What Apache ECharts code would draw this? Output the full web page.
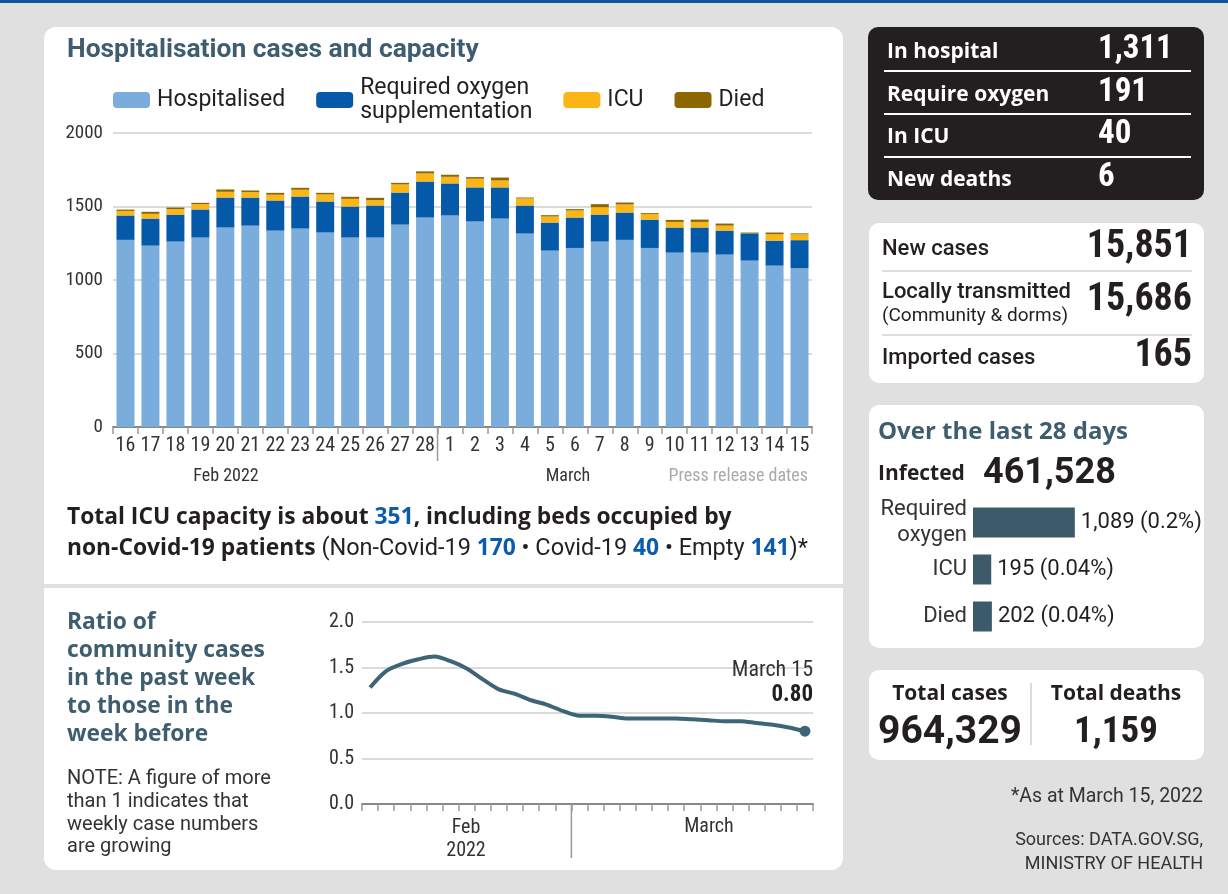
<!DOCTYPE html>
<html>
<head>
<meta charset="utf-8">
<script src="https://cdn.jsdelivr.net/npm/echarts@6/dist/echarts.min.js"></script>
<style>
  html, body { margin: 0; padding: 0; background: #dfe0df; }
  #main { width: 1228px; height: 894px; }
</style>
</head>
<body>
<div id="main"></div>
<script>
// press release dates, Feb 16 - Mar 15 2022
var days = ['16','17','18','19','20','21','22','23','24','25','26','27','28',
            '1','2','3','4','5','6','7','8','9','10','11','12','13','14','15'];
var hospitalised = [1273,1234,1261,1289,1357,1370,1336,1350,1323,1289,1289,1377,1425,1439,
                    1398,1418,1316,1200,1218,1261,1273,1218,1186,1186,1173,1132,1098,1080];
var oxygen = [166,184,184,191,204,191,205,218,211,211,218,218,245,218,
              232,212,191,191,207,184,186,193,171,171,163,186,170,191];
var icu = [31,32,37,36,39,37,39,46,48,52,36,55,55,45,59,47,48,41,48,50,55,37,38,38,34,5,43,40];
var died = [9,14,11,9,16,11,13,13,11,14,16,11,14,14,11,20,6,9,9,21,13,7,14,16,14,2,12,6];

// weekly infection growth ratio
var ratio = [1.28,1.46,1.54,1.59,1.62,1.57,1.49,1.37,1.26,1.21,1.14,1.09,1.02,0.97,
             0.97,0.96,0.94,0.94,0.94,0.94,0.93,0.92,0.91,0.91,0.89,0.87,0.84,0.80];

// last 28 days
var last28Names = ['Required\noxygen', 'ICU', 'Died'];
var last28Values = [1089, 195, 202];
var last28Share = ['0.2%', '0.04%', '0.04%'];

// pick a narrow font if one is installed
function pickFont(list, fallback) {
  var c = document.createElement('canvas').getContext('2d');
  for (var i = 0; i < list.length; i++) {
    c.font = '20px monospace';
    var a = c.measureText('abcdefghij0123456789').width;
    c.font = '20px "' + list[i] + '", monospace';
    if (c.measureText('abcdefghij0123456789').width !== a) return list[i];
  }
  return fallback;
}
var NARROW = pickFont(['Roboto Condensed', 'Liberation Sans Narrow', 'DejaVu Sans Condensed', 'Open Sans Condensed'], 'Roboto');
var SANS = 'Roboto';
var WIDE = "'Open Sans'";
var TEAL = '#3e5e6f';
var INK = '#231f20';

function txt(x, y, text, font, fill, align, extra) {
  var st = {
    text: text, font: font, fill: fill || INK,
    textAlign: align || 'left', align: align || 'left',
    textVerticalAlign: 'middle', verticalAlign: 'middle'
  };
  if (extra) for (var k in extra) st[k] = extra[k];
  return { type: 'text', x: x, y: y, silent: true, z: 10, style: st };
}
function box(x, y, w, h, r, fill) {
  return { type: 'rect', silent: true, z: 0, shape: { x: x, y: y, width: w, height: h, r: r }, style: { fill: fill } };
}
function hline(x1, x2, y, color, w) {
  return { type: 'line', silent: true, z: 5, shape: { x1: x1, y1: y, x2: x2, y2: y }, style: { stroke: color, lineWidth: w } };
}
function vline(x, y1, y2, color, w) {
  return { type: 'line', silent: true, z: 5, shape: { x1: x, y1: y1, x2: x, y2: y2 }, style: { stroke: color, lineWidth: w } };
}
function fmt(n) { return n.toLocaleString('en-US'); }

// chart geometry
var barGrid = { left: 113, top: 133, width: 699, height: 294 };
var lineGrid = { left: 362, top: 622, width: 451, height: 182 };
var febDays = 13;
var barSplitX = barGrid.left + febDays * barGrid.width / days.length;
var lineSplitX = lineGrid.left + febDays * lineGrid.width / days.length;
var TOP = { textVerticalAlign: 'top', verticalAlign: 'top' };

var graphics = [
  box(0, 0, 1228, 3, 0, '#0c56a0'),
  box(44, 27, 799, 557, [12, 12, 0, 0], '#ffffff'),
  box(44, 588, 799, 282, [0, 0, 12, 12], '#ffffff'),
  box(868, 27, 336, 173, 10, INK),
  box(869, 223, 335, 160, 10, '#ffffff'),
  box(869, 405, 335, 243, 10, '#ffffff'),
  box(869, 670, 335, 90, 10, '#ffffff'),

  txt(67, 50, 'Hospitalisation cases and capacity', 'bold 26.4px ' + SANS, TEAL),
  txt(226, 476, 'Feb 2022', '18px ' + NARROW, '#333', 'center'),
  txt(568, 476, 'March', '18px ' + NARROW, '#333', 'center'),
  txt(808, 476, 'Press release dates', '18px ' + NARROW, '#aaa', 'right'),
  vline(barSplitX, barGrid.top + barGrid.height, 461, '#999', 1.5),
  txt(67, 518, 'Total ICU capacity is about {n|351}, including beds occupied by', 'bold 22.8px ' + WIDE, INK, 'left',
      { rich: { n: { font: 'bold 22.8px ' + WIDE, fill: '#0b5cad' } } }),
  txt(67, 549, 'non-Covid-19 patients {r|(Non-Covid-19 }{n|170}{r| \u2022 Covid-19 }{n|40}{r| \u2022 Empty }{n|141}{r|)*}',
      'bold 22.8px ' + WIDE, INK, 'left',
      { rich: { n: { font: 'bold 22.8px ' + WIDE, fill: '#0b5cad' }, r: { font: '23.5px ' + SANS, fill: INK } } }),

  txt(67, 609, 'Ratio of\ncommunity cases\nin the past week\nto those in the\nweek before', 'bold 22.8px ' + WIDE, TEAL, 'left',
      Object.assign({ lineHeight: 28 }, TOP)),
  txt(67, 768, 'NOTE: A figure of more\nthan 1 indicates that\nweekly case numbers\nare growing', '20px ' + SANS, '#333', 'left',
      Object.assign({ lineHeight: 22.7 }, TOP)),
  txt(813, 670, 'March 15', '22px ' + NARROW, '#333', 'right'),
  txt(813, 695, '0.80', 'bold 23px ' + NARROW, INK, 'right'),
  txt(466, 828, 'Feb', '20px ' + NARROW, '#333', 'center'),
  txt(466, 851, '2022', '20px ' + NARROW, '#333', 'center'),
  txt(709, 827, 'March', '20px ' + NARROW, '#333', 'center'),
  vline(lineSplitX, lineGrid.top + lineGrid.height, 858, '#999', 1.5),

  txt(887, 52, 'In hospital', 'bold 21px ' + WIDE, '#fff'),
  txt(887, 95, 'Require oxygen', 'bold 21px ' + WIDE, '#fff'),
  txt(887, 137, 'In ICU', 'bold 21px ' + WIDE, '#fff'),
  txt(887, 180, 'New deaths', 'bold 21px ' + WIDE, '#fff'),
  txt(1098, 50, '1,311', 'bold 33px ' + NARROW, '#fff'),
  txt(1098, 93, '191', 'bold 33px ' + NARROW, '#fff'),
  txt(1098, 135, '40', 'bold 33px ' + NARROW, '#fff'),
  txt(1098, 178, '6', 'bold 33px ' + NARROW, '#fff'),
  hline(884, 1191, 71, '#fff', 2),
  hline(884, 1191, 114, '#fff', 2),
  hline(884, 1191, 157, '#fff', 2),

  txt(882, 249, 'New cases', '500 22px ' + SANS, INK),
  txt(1192, 247, '15,851', 'bold 38px ' + NARROW, INK, 'right'),
  hline(882, 1192, 271, '#dcdcdc', 2),
  txt(882, 292, 'Locally transmitted', '500 22px ' + SANS, INK),
  txt(882, 316, '(Community & dorms)', '19px ' + SANS, INK),
  txt(1192, 300, '15,686', 'bold 38px ' + NARROW, INK, 'right'),
  hline(882, 1192, 335, '#dcdcdc', 2),
  txt(882, 358, 'Imported cases', '500 22px ' + SANS, INK),
  txt(1192, 356, '165', 'bold 38px ' + NARROW, INK, 'right'),

  txt(878, 432, 'Over the last 28 days', 'bold 24px ' + WIDE, TEAL),
  txt(878, 474, 'Infected', 'bold 21px ' + WIDE, INK),
  txt(983, 474, '461,528', 'bold 36px ' + SANS, INK),

  txt(950, 694, 'Total cases', 'bold 21px ' + WIDE, INK, 'center'),
  txt(950, 733, '964,329', 'bold 39px ' + SANS, INK, 'center'),
  txt(1116, 694, 'Total deaths', 'bold 21px ' + WIDE, INK, 'center'),
  txt(1116, 733, '1,159', 'bold 37px ' + NARROW, INK, 'center'),
  vline(1031, 683, 745, '#dcdcdc', 2),

  txt(1203, 797, '*As at March 15, 2022', '19.5px ' + SANS, '#333', 'right'),
  txt(1203, 840, 'Sources: DATA.GOV.SG,', '18px ' + SANS, '#333', 'right'),
  txt(1203, 864, 'MINISTRY OF HEALTH', '18px ' + SANS, '#333', 'right')
];

var myChart = echarts.init(document.getElementById('main'), null, { renderer: 'canvas' });

var axisTxt = { color: '#333', fontFamily: NARROW, fontSize: 18 };
var barSeries = function (name, data, color) {
  return {
    name: name, type: 'bar', stack: 'hosp', xAxisIndex: 0, yAxisIndex: 0,
    barCategoryGap: '28%', data: data, itemStyle: { color: color }, silent: true
  };
};
var dayTicks = { show: true, interval: 0, length: 7, lineStyle: { color: '#999', width: 1.5 } };

var option = {
  animation: false,
  textStyle: { fontFamily: SANS },
  graphic: { elements: graphics },
  legend: {
    left: 113, top: 76, padding: 0, itemGap: 31, itemWidth: 37, itemHeight: 16,
    selectedMode: false,
    textStyle: { color: INK, fontFamily: SANS, fontSize: 23, lineHeight: 24, padding: [0, 0, 0, 2] },
    formatter: function (n) { return n === 'Required oxygen supplementation' ? 'Required oxygen\nsupplementation' : n; },
    data: ['Hospitalised', 'Required oxygen supplementation', 'ICU', 'Died']
  },
  grid: [
    { left: barGrid.left, top: barGrid.top, width: barGrid.width, height: barGrid.height },
    { left: lineGrid.left, top: lineGrid.top, width: lineGrid.width, height: lineGrid.height },
    { left: 973, top: 499, width: 187, height: 141 }
  ],
  xAxis: [
    {
      gridIndex: 0, type: 'category', data: days, boundaryGap: true,
      axisLine: { lineStyle: { color: '#888', width: 2 } },
      axisTick: dayTicks,
      axisLabel: Object.assign({ interval: 0, margin: 9 }, axisTxt, { fontSize: 20 })
    },
    {
      gridIndex: 1, type: 'category', data: days, boundaryGap: true,
      axisLine: { lineStyle: { color: '#888', width: 2 } },
      axisTick: dayTicks,
      axisLabel: { show: false }
    },
    { gridIndex: 2, type: 'value', min: 0, max: 2000, show: false }
  ],
  yAxis: [
    {
      gridIndex: 0, type: 'value', min: 0, max: 2000, interval: 500,
      axisLine: { show: false }, axisTick: { show: false },
      splitLine: { lineStyle: { color: '#cfcfcf', width: 1.5 } },
      axisLabel: Object.assign({ margin: 10, formatter: function (v) { return String(v); } }, axisTxt, { fontSize: 19 })
    },
    {
      gridIndex: 1, type: 'value', min: 0, max: 2, interval: 0.5,
      axisLine: { show: false }, axisTick: { show: false },
      splitLine: { lineStyle: { color: '#cfcfcf', width: 1.5 } },
      axisLabel: Object.assign({ margin: 8, formatter: function (v) { return v.toFixed(1); } }, axisTxt, { fontSize: 20 })
    },
    {
      gridIndex: 2, type: 'category', data: last28Names, inverse: true,
      axisLine: { show: false }, axisTick: { show: false },
      axisLabel: { margin: 6, color: '#333', fontFamily: SANS, fontSize: 22, lineHeight: 26, align: 'right' }
    }
  ],
  series: [
    barSeries('Hospitalised', hospitalised, '#7aaddc'),
    barSeries('Required oxygen supplementation', oxygen, '#0459a9'),
    barSeries('ICU', icu, '#fbb616'),
    barSeries('Died', died, '#8c6600'),
    {
      name: 'ratio', type: 'line', xAxisIndex: 1, yAxisIndex: 1, smooth: 0.3,
      showAllSymbol: true, silent: true,
      lineStyle: { color: '#3d6477', width: 4 },
      itemStyle: { color: '#3d6477' },
      data: ratio.map(function (v, i) {
        return i === ratio.length - 1 ? { value: v, symbol: 'circle', symbolSize: 11 } : { value: v, symbol: 'none' };
      })
    },
    {
      name: 'last28', type: 'bar', xAxisIndex: 2, yAxisIndex: 2, barWidth: 30, silent: true,
      itemStyle: { color: '#3d5a6a' },
      label: {
        show: true, position: 'right', distance: 6, color: INK, fontFamily: SANS, fontSize: 22,
        formatter: function (p) { return fmt(p.value) + ' (' + last28Share[p.dataIndex] + ')'; }
      },
      data: last28Values
    }
  ]
};

myChart.setOption(option);
</script>
</body>
</html>
